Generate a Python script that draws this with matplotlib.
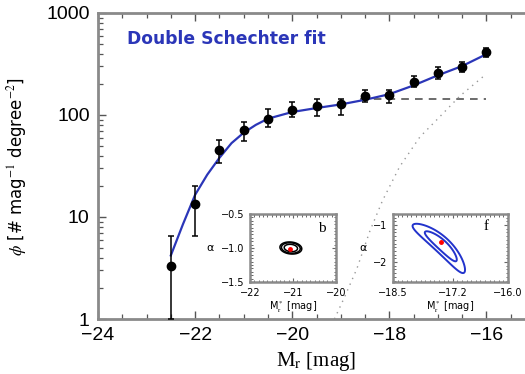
import numpy as np
import matplotlib
matplotlib.use("Agg")
import matplotlib.pyplot as plt
from matplotlib.ticker import FixedLocator, MultipleLocator

plt.rcParams["mathtext.fontset"] = "stix"

# Luminosity function measurements
mag = [-22.5, -22.0, -21.5, -21.0, -20.5, -20.0, -19.5, -19.0, -18.5, -18.0, -17.5, -17.0, -16.5, -16.0]
phi = [3.3, 13.3, 45, 72, 92, 111, 122, 127, 153, 157, 210, 257, 297, 410]
phi_hi = [6.5, 20, 57, 86, 114, 133, 145, 145, 176, 176, 241, 297, 333, 450]
phi_lo = [1.0, 6.5, 34, 55, 77, 95, 97, 101, 133, 130, 188, 226, 265, 370]

# Double Schechter fit
fit_mag = [-22.5, -22.25, -22.0, -21.75, -21.5, -21.25, -21.0, -20.75, -20.5, -20.0,
           -19.5, -19.0, -18.5, -18.0, -17.5, -17.0, -16.5, -16.0]
fit_phi = [4.2, 8.5, 16.5, 26, 38, 53, 67, 80, 92, 107,
           117, 127, 141, 160, 195, 245, 302, 395]

# Bright component (flat faint end)
comp1_mag = [-18.6, -16.0]
comp1_phi = [145, 145]

# Faint component
comp2_mag = [-19.13, -18.92, -18.67, -18.4, -18.14, -17.79, -17.37, -17.02, -16.55, -16.0]
comp2_phi = [1.0, 1.65, 3.1, 7.3, 14.5, 31, 61, 90, 153, 253]

# Best-fit Schechter parameters (M*, alpha)
b_best = (-21.08, -1.01)
f_best = (-17.46, -1.46)

W, H = 525, 374
fig = plt.figure(figsize=(W / 100, H / 100), dpi=100)
fig.patch.set_facecolor("white")

ax = fig.add_axes([98 / W, 1 - 319 / H, (535 - 98) / W, (319 - 13) / H])
ax.set_yscale("log")
ax.set_xlim(-24, -15)
ax.set_ylim(1, 1000)

blue = "#2b36b8"
ax.plot(fit_mag, fit_phi, color=blue, lw=1.6, zorder=3)
ax.plot(comp1_mag, comp1_phi, color="#444444", lw=1.1, ls=(0, (5, 4)), zorder=2)
ax.plot(comp2_mag, comp2_phi, color="#999999", lw=1.0, ls=(0, (1, 3.5)), zorder=2)

phi_a = np.array(phi)
yerr = np.vstack([phi_a - np.array(phi_lo), np.array(phi_hi) - phi_a])
ax.errorbar(mag, phi, yerr=yerr, fmt="o", color="black", ms=6, elinewidth=1.1,
            capsize=2.5, capthick=1.1, zorder=4)

ax.text(-23.4, 560, "Double Schechter fit", color=blue, fontsize=12.3,
        fontweight="bold", ha="left", va="center", family="DejaVu Sans")

ax.xaxis.set_major_locator(FixedLocator([-24, -22, -20, -18, -16]))
ax.xaxis.set_minor_locator(MultipleLocator(0.5))
ax.set_xticklabels(["\u221224", "\u221222", "\u221220", "\u221218", "\u221216"])
ax.yaxis.set_major_locator(FixedLocator([1, 10, 100, 1000]))
ax.set_yticklabels(["1", "10", "100", "1000"])
ax.tick_params(which="both", direction="in", top=True, right=True, color="#555555")
ax.tick_params(which="major", length=6, width=1.0, labelsize=14, pad=6)
ax.tick_params(which="minor", length=3.5, width=0.9)
for lab in ax.get_xticklabels() + ax.get_yticklabels():
    lab.set_family("Liberation Sans")
for sp in ax.spines.values():
    sp.set_color("#8a8a8a")
    sp.set_linewidth(2.0)

ax.set_xlabel(r"M$_\mathrm{r}$ [mag]", fontsize=15, family="Liberation Serif", labelpad=4)
ax.set_ylabel(r"$\phi$ [# mag$^{-1}$ degree$^{-2}$]", fontsize=12, labelpad=12,
              family="DejaVu Sans")


def contour_panel(axi, xlim, ylim, center, px_w, px_h, angle, su, sv, bend, levels, color, lw):
    m = np.linspace(xlim[0], xlim[1], 300)
    a = np.linspace(ylim[0], ylim[1], 300)
    mm, aa = np.meshgrid(m, a)
    px = (mm - center[0]) / (xlim[1] - xlim[0]) * px_w
    py = (aa - center[1]) / (ylim[1] - ylim[0]) * px_h
    t = np.deg2rad(angle)
    u = px * np.cos(t) + py * np.sin(t)
    v = -px * np.sin(t) + py * np.cos(t)
    chi2 = (u / su) ** 2 + ((v + bend * u ** 2) / sv) ** 2
    axi.contour(mm, aa, chi2, levels=levels, colors=color, linewidths=lw)


def style_inset(axi):
    axi.set_facecolor("white")
    axi.tick_params(which="both", direction="in", top=True, right=True, color="#666666")
    axi.tick_params(which="major", length=3, width=0.8, labelsize=7, pad=4)
    axi.tick_params(which="minor", length=1.8, width=0.7)
    for sp in axi.spines.values():
        sp.set_color("#8a8a8a")
        sp.set_linewidth(1.8)


# Panel b
bx0, bx1, by0, by1 = 250, 336, 214, 282
axb = fig.add_axes([bx0 / W, 1 - by1 / H, (bx1 - bx0) / W, (by1 - by0) / H])
b_xlim, b_ylim = (-22, -20), (-1.5, -0.5)
axb.set_xlim(*b_xlim)
axb.set_ylim(*b_ylim)
contour_panel(axb, b_xlim, b_ylim, (-21.05, -1.0), bx1 - bx0, by1 - by0,
              -6, 4.4, 2.4, 0.0, [2.3, 4.6, 6.2], "black", 1.1)
axb.plot(*b_best, "o", color="red", ms=2.5, zorder=5)
axb.set_xticks([-22, -21, -20])
axb.set_xticklabels(["\u221222", "\u221221", "\u221220"])
axb.xaxis.set_minor_locator(MultipleLocator(0.1))
axb.set_yticks([-1.5, -1.0, -0.5])
axb.set_yticklabels(["\u22121.5", "\u22121.0", "\u22120.5"])
axb.yaxis.set_minor_locator(MultipleLocator(0.05))
style_inset(axb)
axb.set_xlabel(r"M$_\mathrm{r}^*$ [mag]", fontsize=7, labelpad=1)
axb.text(-0.46, 0.5, "\u03b1", transform=axb.transAxes, fontsize=8, ha="center", va="center")
axb.text(0.84, 0.79, "b", transform=axb.transAxes, fontsize=11, ha="center", va="center",
         family="Liberation Serif")

# Panel f
fx0, fx1, fy0, fy1 = 393, 508, 214, 282
axf = fig.add_axes([fx0 / W, 1 - fy1 / H, (fx1 - fx0) / W, (fy1 - fy0) / H])
f_xlim, f_ylim = (-18.5, -16.0), (-2.54, -0.70)
axf.set_xlim(*f_xlim)
axf.set_ylim(*f_ylim)
contour_panel(axf, f_xlim, f_ylim, (-17.435, -1.54), fx1 - fx0, fy1 - fy0,
              -43, 14.1, 3.2, 0.004, [2.3, 6.17], "#2233cc", 1.4)
axf.plot(*f_best, "o", color="red", ms=2.5, zorder=5)
axf.set_xticks([-18.5, -17.2, -16.0])
axf.set_xticklabels(["\u221218.5", "\u221217.2", "\u221216.0"])
axf.xaxis.set_minor_locator(MultipleLocator(0.1))
axf.set_yticks([-2, -1])
axf.set_yticklabels(["\u22122", "\u22121"])
axf.yaxis.set_minor_locator(MultipleLocator(0.1))
style_inset(axf)
axf.set_xlabel(r"M$_\mathrm{r}^*$ [mag]", fontsize=7, labelpad=1)
axf.text(-0.26, 0.5, "\u03b1", transform=axf.transAxes, fontsize=8, ha="center", va="center")
axf.text(0.81, 0.81, "f", transform=axf.transAxes, fontsize=11, ha="center", va="center",
         family="Liberation Serif")

fig.savefig("out.png", dpi=100)
